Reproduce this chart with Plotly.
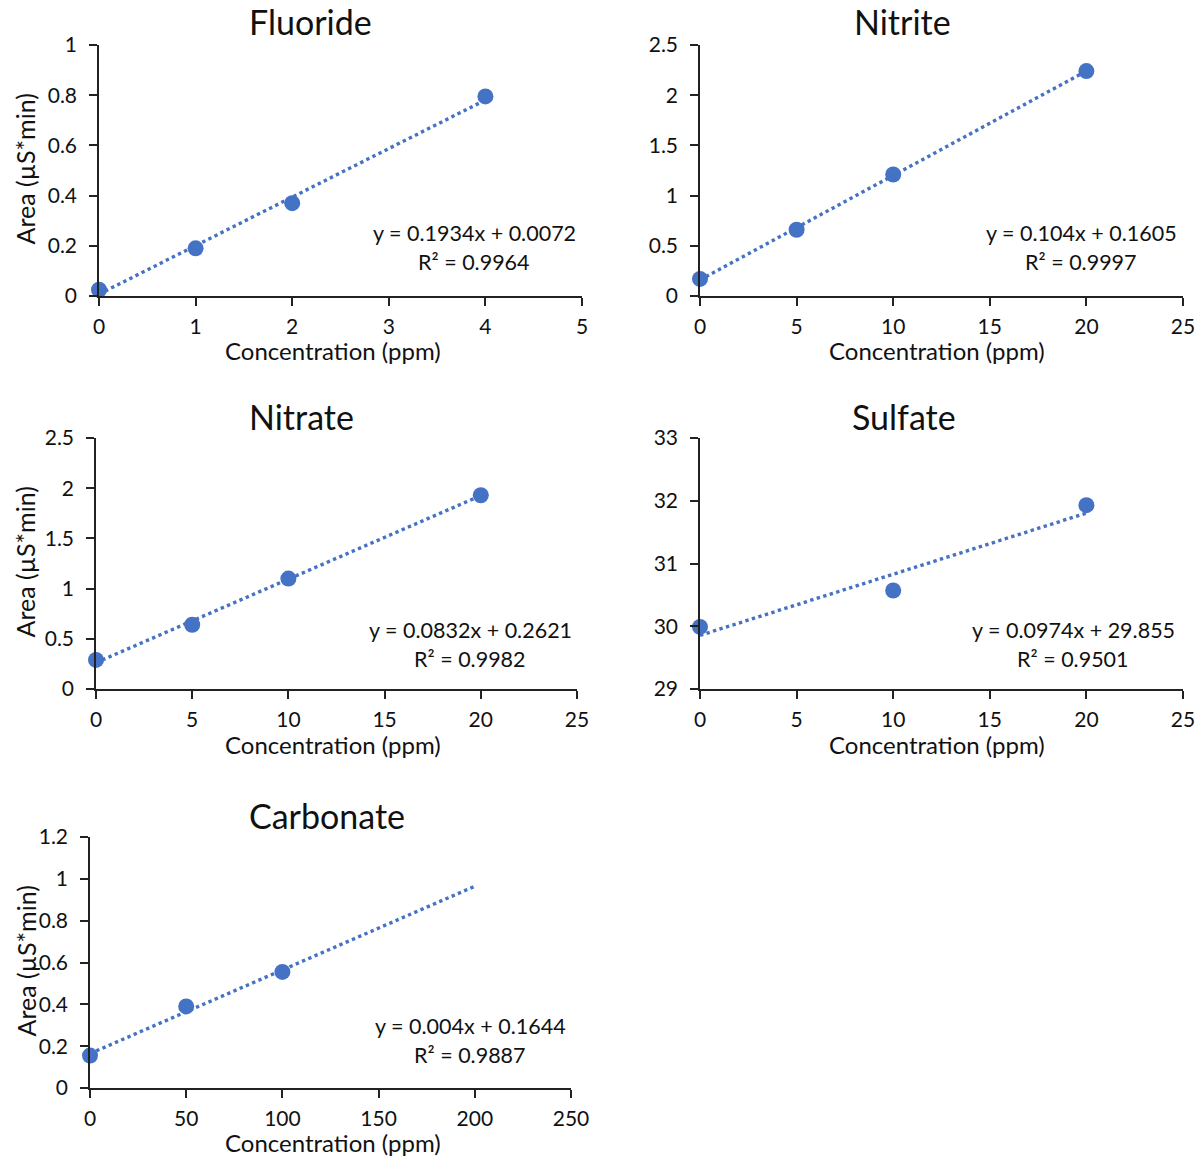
import plotly.graph_objects as go

# ---- data ----
names = ["Fluoride", "Nitrite", "Nitrate", "Sulfate", "Carbonate"]
fluoride_x = [0, 1, 2, 4]
fluoride_y = [0.025, 0.19, 0.37, 0.795]
nitrite_x = [0, 5, 10, 20]
nitrite_y = [0.17, 0.66, 1.21, 2.24]
nitrate_x = [0, 5, 10, 20]
nitrate_y = [0.29, 0.64, 1.10, 1.93]
sulfate_x = [0, 10, 20]
sulfate_y = [29.99, 30.57, 31.93]
carbonate_x = [0, 50, 100]
carbonate_y = [0.155, 0.39, 0.555]

slopes = [0.1934, 0.104, 0.0832, 0.0974, 0.004]
intercepts = [0.0072, 0.1605, 0.2621, 29.855, 0.1644]
r2 = ["0.9964", "0.9997", "0.9982", "0.9501", "0.9887"]
eq_text = ["y = 0.1934x + 0.0072", "y = 0.104x + 0.1605", "y = 0.0832x + 0.2621",
           "y = 0.0974x + 29.855", "y = 0.004x + 0.1644"]
trend_end = [4, 20, 20, 20, 200]

x_ranges = [(0, 5, 1), (0, 25, 5), (0, 25, 5), (0, 25, 5), (0, 250, 50)]
y_ranges = [(0, 1), (0, 2.5), (0, 2.5), (29, 33), (0, 1.2)]
y_tick_text = [["0", "0.2", "0.4", "0.6", "0.8", "1"],
               ["0", "0.5", "1", "1.5", "2", "2.5"],
               ["0", "0.5", "1", "1.5", "2", "2.5"],
               ["29", "30", "31", "32", "33"],
               ["0", "0.2", "0.4", "0.6", "0.8", "1", "1.2"]]

xs = [fluoride_x, nitrite_x, nitrate_x, sulfate_x, carbonate_x]
ys = [fluoride_y, nitrite_y, nitrate_y, sulfate_y, carbonate_y]

# ---- layout (pixels) ----
W, H = 1202, 1158
boxes = [  # x0, x1, ytop, ybottom
    (99, 582, 45, 296),
    (700, 1183, 45, 296),
    (96, 577, 438, 689),
    (700, 1183, 438, 689),
    (90, 571, 837, 1088),
]
title_pos = [(310, 22), (902, 22), (301, 417), (904, 417), (327, 816)]
eq_pos = [(474, 233), (1081, 233), (470, 630), (1073, 630), (470, 1026)]
xtitle_pos = [(333, 351), (937, 351), (333, 744), (937, 744), (333, 1142)]
show_ytitle = [True, False, True, False, True]

BLUE = "#4472C4"
FONT = "Lato, Open Sans, sans-serif"
TXT = "#111"

fig = go.Figure()
layout = dict(width=W, height=H, margin=dict(l=0, r=0, t=0, b=0),
              paper_bgcolor="white", plot_bgcolor="white", showlegend=False,
              font=dict(family=FONT, color=TXT, size=21))
annotations = []

def px(x):
    return x / W

def py(y):
    return 1 - y / H

for i in range(5):
    sfx = "" if i == 0 else str(i + 1)
    xa, ya = "x" + sfx, "y" + sfx
    x0, x1, yt, yb = boxes[i]
    # trendline
    tx = [0, trend_end[i]]
    ty = [intercepts[i] + slopes[i] * v for v in tx]
    fig.add_trace(go.Scatter(x=tx, y=ty, mode="lines", xaxis=xa, yaxis=ya,
                             line=dict(color=BLUE, width=3.4, dash="dot"),
                             hoverinfo="skip"))
    fig.add_trace(go.Scatter(x=xs[i], y=ys[i], mode="markers", xaxis=xa, yaxis=ya,
                             marker=dict(color=BLUE, size=16), cliponaxis=False))
    xr, yr = x_ranges[i], y_ranges[i]
    layout["xaxis" + sfx] = dict(
        domain=[px(x0), px(x1)], anchor=ya, range=[xr[0], xr[1]],
        tick0=xr[0], dtick=xr[2], showgrid=False, zeroline=False,
        showline=True, linecolor="#222", linewidth=1.5, automargin=False,
        ticks="outside", ticklen=8, tickwidth=1.5, tickcolor="#222",
        ticklabelstandoff=3,
        tickfont=dict(size=21, color=TXT, family=FONT),
    )
    yvals = [float(t) for t in y_tick_text[i]]
    layout["yaxis" + sfx] = dict(
        domain=[py(yb), py(yt)], anchor=xa, range=[yr[0], yr[1]],
        tickmode="array", tickvals=yvals, ticktext=y_tick_text[i],
        showgrid=False, zeroline=False, automargin=False,
        showline=True, linecolor="#222", linewidth=1.5,
        ticks="outside", ticklen=8, tickwidth=1.5, tickcolor="#222",
        ticklabelstandoff=8,
        tickfont=dict(size=21, color=TXT, family=FONT),
    )
    # title
    annotations.append(dict(text=names[i], x=px(title_pos[i][0]), y=py(title_pos[i][1]),
                            xref="paper", yref="paper", showarrow=False,
                            xanchor="center", yanchor="middle",
                            font=dict(size=34, color=TXT, family=FONT)))
    # x-axis title
    annotations.append(dict(text="Concentration (ppm)", x=px(xtitle_pos[i][0]),
                            y=py(xtitle_pos[i][1]),
                            xref="paper", yref="paper", showarrow=False,
                            xanchor="center", yanchor="middle",
                            font=dict(size=24, color=TXT, family=FONT)))
    # equation
    annotations.append(dict(text=eq_text[i], x=px(eq_pos[i][0]), y=py(eq_pos[i][1]),
                            xref="paper", yref="paper", showarrow=False,
                            xanchor="center", yanchor="middle",
                            font=dict(size=21.5, color=TXT, family=FONT)))
    annotations.append(dict(text="R² = " + r2[i], x=px(eq_pos[i][0]), y=py(eq_pos[i][1] + 29),
                            xref="paper", yref="paper", showarrow=False,
                            xanchor="center", yanchor="middle",
                            font=dict(size=21.5, color=TXT, family=FONT)))
    if show_ytitle[i]:
        annotations.append(dict(text="Area (µS*min)", x=px(25), y=py((yt + yb) / 2 - 1),
                                xref="paper", yref="paper", showarrow=False,
                                xanchor="center", yanchor="middle", textangle=-90,
                                font=dict(size=25, color=TXT, family=FONT)))

layout["annotations"] = annotations
fig.update_layout(**layout)
fig.write_html("out.html")
